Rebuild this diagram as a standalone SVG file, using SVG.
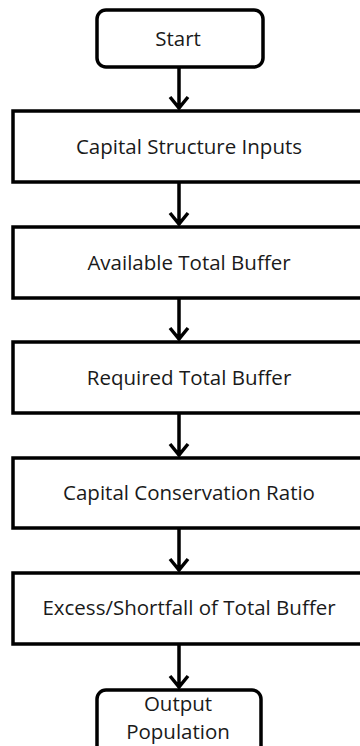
<svg xmlns="http://www.w3.org/2000/svg" width="360" height="746" viewBox="0 0 360 746">
<style>
.box{fill:#fff;stroke:#000;stroke-width:3.5}
.t{font-family:"Open Sans","Liberation Sans",sans-serif;font-size:20.5px;fill:#1a1a1a;text-anchor:middle;dominant-baseline:central}
.c{stroke:#000;stroke-width:3.5;fill:none}
</style>
<rect width="360" height="746" fill="#fff"/>
<g id="start"><rect class="box" x="97" y="10" width="166" height="57" rx="9"/><text class="t" x="178" y="38">Start</text></g>
<g id="n1"><rect class="box" x="13" y="111" width="360" height="71"/><text class="t" x="189" y="146">Capital Structure Inputs</text></g>
<g id="n2"><rect class="box" x="13" y="227" width="360" height="71"/><text class="t" x="189" y="262">Available Total Buffer</text></g>
<g id="n3"><rect class="box" x="13" y="342" width="360" height="71"/><text class="t" x="189" y="377">Required Total Buffer</text></g>
<g id="n4"><rect class="box" x="13" y="458" width="360" height="70"/><text class="t" x="189" y="492">Capital Conservation Ratio</text></g>
<g id="n5"><rect class="box" x="13" y="573" width="360" height="71"/><text class="t" x="189" y="607">Excess/Shortfall of Total Buffer</text></g>
<g id="out"><rect class="box" x="97" y="690" width="164" height="70" rx="9"/><text class="t" x="178" y="703">Output</text><text class="t" x="178" y="731">Population</text></g>
<g id="connectors">
<path class="c" d="M179 67V109M170 97L179 108L188 97"/>
<path class="c" d="M179 182V225M170 213L179 224L188 213"/>
<path class="c" d="M179 298V340M170 328L179 339L188 328"/>
<path class="c" d="M179 413V456M170 444L179 455L188 444"/>
<path class="c" d="M179 528V571M170 559L179 570L188 559"/>
<path class="c" d="M179 644V688M170 676L179 687L188 676"/>
</g>
</svg>
